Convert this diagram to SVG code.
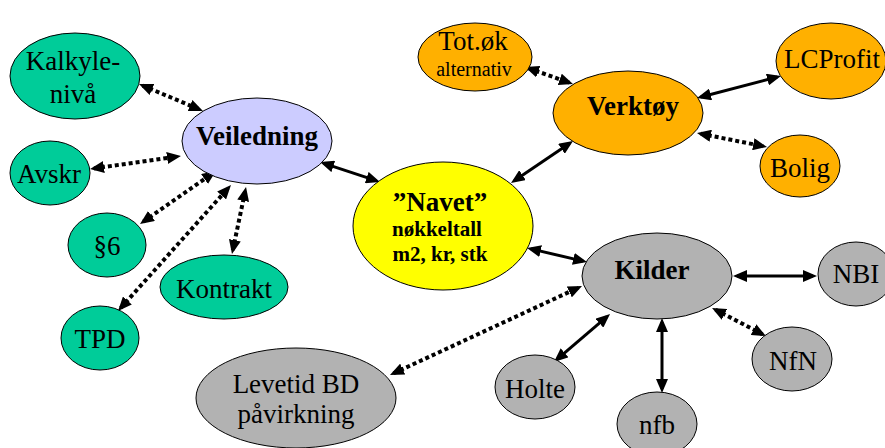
<svg xmlns="http://www.w3.org/2000/svg" width="885" height="448" viewBox="0 0 885 448">
<style>
.n{stroke:#000;stroke-width:1}
.g{fill:#00CC99}.v{fill:#CCCCFF}.o{fill:#FFB000}.y{fill:#FFFF00}.s{fill:#B2B2B2}
text{font-family:"Liberation Serif","Times New Roman",serif;font-size:27px;fill:#000;text-anchor:middle}
.b{font-weight:bold}
.sm{font-size:20px}
.nb{font-weight:bold;font-size:21px}
.c{fill:none;stroke:#000;marker-start:url(#ah);marker-end:url(#ah)}
.solid{stroke-width:3}
.dot{stroke-width:4;stroke-dasharray:4 3}
</style>
<defs>
<marker id="ah" markerUnits="userSpaceOnUse" viewBox="0 0 14 12" refX="10" refY="6" markerWidth="14" markerHeight="12" orient="auto-start-reverse">
<path d="M0,0 L14,6 L0,12 z" fill="#000"/>
</marker>
</defs>
<g id="connectors">
<line class="c dot" x1="142.7" y1="85.6" x2="199.3" y2="109.4"/>
<line class="c dot" x1="94" y1="168.4" x2="177" y2="156.6"/>
<line class="c dot" x1="143.3" y1="221.7" x2="212.7" y2="173.3"/>
<line class="c dot" x1="120.7" y1="308" x2="228.3" y2="188"/>
<line class="c dot" x1="232.8" y1="250.1" x2="245.2" y2="190.9"/>
<line class="c solid" x1="323.8" y1="163.3" x2="376.2" y2="180.7"/>
<line class="c solid" x1="514.3" y1="180.8" x2="569.7" y2="143.2"/>
<line class="c dot" x1="528.8" y1="68.3" x2="569.2" y2="82.7"/>
<line class="c solid" x1="700.9" y1="97" x2="777.1" y2="77"/>
<line class="c dot" x1="700.9" y1="133.8" x2="763.1" y2="146.2"/>
<line class="c solid" x1="530.9" y1="248.9" x2="583.1" y2="261.1"/>
<line class="c dot" x1="393.6" y1="373.3" x2="578.4" y2="287.7"/>
<line class="c solid" x1="557" y1="359.4" x2="607" y2="316.6"/>
<line class="c solid" x1="662" y1="322" x2="662" y2="389"/>
<line class="c solid" x1="737" y1="276" x2="813" y2="276"/>
<line class="c dot" x1="715.6" y1="309.8" x2="762.4" y2="334.2"/>
</g>
<g id="kalkyle"><ellipse class="n g" cx="75" cy="76" rx="65" ry="43"/><text x="73" y="70">Kalkyle-</text><text x="73" y="103">nivå</text></g>
<g id="veiledning"><ellipse class="n v" cx="257" cy="141" rx="75" ry="43"/><text class="b" x="257" y="145">Veiledning</text></g>
<g id="avskr"><ellipse class="n g" cx="50" cy="173" rx="40" ry="32"/><text x="49" y="183">Avskr</text></g>
<g id="p6"><ellipse class="n g" cx="107" cy="245" rx="39" ry="32"/><text x="107" y="255">§6</text></g>
<g id="kontrakt"><ellipse class="n g" cx="224" cy="287" rx="64" ry="32"/><text x="224" y="298">Kontrakt</text></g>
<g id="tpd"><ellipse class="n g" cx="100" cy="338" rx="39" ry="32"/><text x="100" y="348">TPD</text></g>
<g id="levetid"><ellipse class="n s" cx="296" cy="398" rx="100" ry="50"/><text x="296" y="393">Levetid BD</text><text x="296" y="423">påvirkning</text></g>
<g id="navet"><ellipse class="n y" cx="443" cy="226" rx="90" ry="64"/><text class="b" x="440" y="211">”Navet”</text><text class="nb" x="437" y="236">nøkkeltall</text><text class="nb" x="440" y="261">m2, kr, stk</text></g>
<g id="totok"><ellipse class="n o" cx="475" cy="57" rx="57" ry="34"/><text x="473" y="50">Tot.øk</text><text class="sm" x="474" y="76">alternativ</text></g>
<g id="verktoy"><ellipse class="n o" cx="628" cy="113" rx="75" ry="42"/><text class="b" x="633" y="115">Verktøy</text></g>
<g id="lcprofit"><ellipse class="n o" cx="831" cy="61" rx="55" ry="38"/><text x="832" y="68">LCProfit</text></g>
<g id="bolig"><ellipse class="n o" cx="800" cy="166" rx="40" ry="31"/><text x="800" y="177">Bolig</text></g>
<g id="kilder"><ellipse class="n s" cx="657" cy="276" rx="75" ry="43"/><text class="b" x="652" y="279">Kilder</text></g>
<g id="nbi"><ellipse class="n s" cx="856" cy="274" rx="38" ry="32"/><text x="856" y="283">NBI</text></g>
<g id="nfn"><ellipse class="n s" cx="792" cy="359" rx="40" ry="32"/><text x="793" y="370">NfN</text></g>
<g id="holte"><ellipse class="n s" cx="535" cy="387" rx="40" ry="32"/><text x="535" y="398">Holte</text></g>
<g id="nfb"><ellipse class="n s" cx="657" cy="424" rx="40" ry="32"/><text x="657" y="434">nfb</text></g>
</svg>
